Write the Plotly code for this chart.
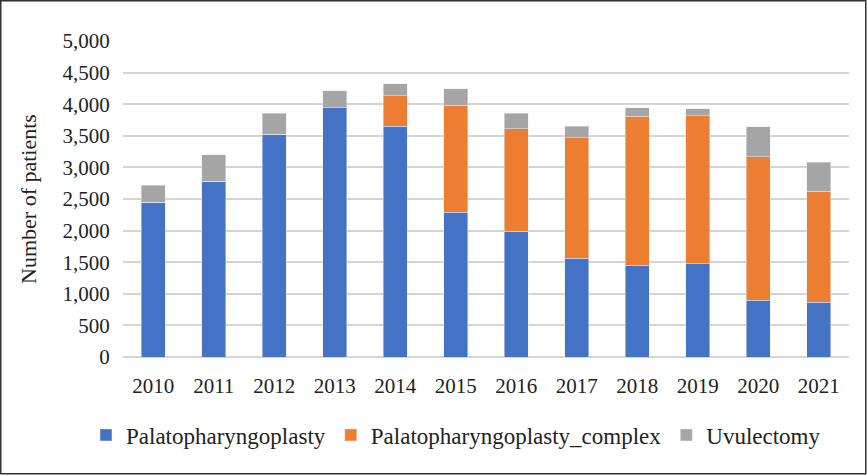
import plotly.graph_objects as go

years = ["2010", "2011", "2012", "2013", "2014", "2015", "2016", "2017", "2018", "2019", "2020", "2021"]
palato = [2450, 2783, 3523, 3944, 3654, 2292, 1986, 1563, 1448, 1473, 898, 866]
palato_complex = [0, 0, 0, 0, 476, 1695, 1626, 1906, 2360, 2344, 2270, 1759]
uvulectomy = [270, 417, 337, 270, 190, 258, 248, 185, 136, 111, 475, 459]
y_ticks = [0, 500, 1000, 1500, 2000, 2500, 3000, 3500, 4000, 4500, 5000]

W, H = 867, 475
ML, MR, MT, MB = 123, 18, 41, 118
PW, PH = W - ML - MR, H - MT - MB

FONT = "Liberation Serif, Times New Roman, serif"

fig = go.Figure()
fig.add_trace(go.Bar(x=years, y=palato, name="Palatopharyngoplasty", marker_color="#4472C4"))
fig.add_trace(go.Bar(x=years, y=palato_complex, name="Palatopharyngoplasty_complex", marker_color="#ED7D31"))
fig.add_trace(go.Bar(x=years, y=uvulectomy, name="Uvulectomy", marker_color="#A5A5A5"))

def px_to_paper_x(px):
    return (px - ML) / PW

def px_to_paper_y(py):
    return (H - MB - py) / PH

fig.update_layout(
    width=W, height=H,
    barmode="stack", bargap=0.6,
    margin=dict(l=ML, r=MR, t=MT, b=MB, pad=0),
    paper_bgcolor="white", plot_bgcolor="white",
    font=dict(family=FONT, size=21, color="#222222"),
    showlegend=True,
    legend=dict(orientation="h", x=px_to_paper_x(86), xanchor="left",
                y=px_to_paper_y(435), yanchor="middle",
                font=dict(family=FONT, size=23, color="#222222"),
                traceorder="normal", bgcolor="rgba(0,0,0,0)"),
    xaxis=dict(showgrid=False, showline=False, ticks="outside", ticklen=10,
               tickcolor="rgba(0,0,0,0)", tickfont=dict(size=21)),
    yaxis=dict(range=[0, 5000], tickvals=y_ticks, tickformat=",d",
               showgrid=True, gridcolor="#d4d4d4", gridwidth=1.5,
               zeroline=True, zerolinecolor="#d4d4d4", zerolinewidth=1.5,
               showline=False, ticks="outside", ticklen=8, tickcolor="rgba(0,0,0,0)",
               tickfont=dict(size=21),
               title=dict(text="Number of patients", font=dict(size=22), standoff=19)),
    shapes=[dict(type="rect", xref="paper", yref="paper",
                 x0=px_to_paper_x(0.75), x1=px_to_paper_x(W - 1.25),
                 y0=px_to_paper_y(H - 1.25), y1=px_to_paper_y(0.75),
                 line=dict(color="#333333", width=1.5), fillcolor="rgba(0,0,0,0)",
                 layer="above")],
)

fig.write_html("out.html",
               config={"displayModeBar": False},
               post_script="document.body.style.margin='0';document.body.style.overflow='hidden';")
